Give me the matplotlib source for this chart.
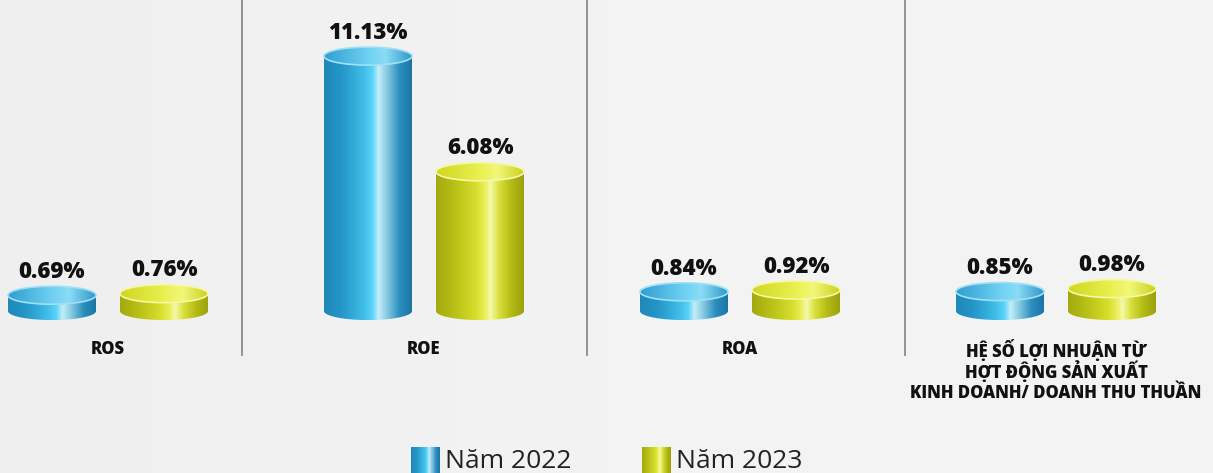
import numpy as np
import matplotlib
matplotlib.use("Agg")
import matplotlib.pyplot as plt
from matplotlib.colors import LinearSegmentedColormap
from matplotlib.patches import Polygon, Ellipse

# du lieu
categories = ["ROS", "ROE", "ROA",
              "HỆ SỐ LỢI NHUẬN TỪ\nHỢT ĐỘNG SẢN XUẤT\nKINH DOANH/ DOANH THU THUẦN"]
series_names = ["Năm 2022", "Năm 2023"]
values_2022 = [0.69, 11.13, 0.84, 0.85]
values_2023 = [0.76, 6.08, 0.92, 0.98]

plt.rcParams['font.family'] = ['Open Sans', 'DejaVu Sans']

# mau gradient cho than va mat tren cua tru
blue_body = LinearSegmentedColormap.from_list("bb", [
    (0.0, "#1f88b8"), (0.2, "#2596c8"), (0.45, "#3fbde8"), (0.55, "#5ad3f8"),
    (0.62, "#c4eef9"), (0.72, "#86c9e2"), (0.86, "#2b8fbe"), (1.0, "#1a76a4")])
blue_top = LinearSegmentedColormap.from_list("bt", [
    (0.0, "#2f9fd0"), (0.5, "#6fd0f2"), (0.7, "#8adcf5"), (1.0, "#2f98c8")])
yellow_body = LinearSegmentedColormap.from_list("yb", [
    (0.0, "#a3aa0e"), (0.2, "#b8bf16"), (0.45, "#d6dd2c"), (0.55, "#e8ee52"),
    (0.62, "#f6f9a8"), (0.72, "#d9df3a"), (0.86, "#b4ba14"), (1.0, "#9ba10b")])
yellow_top = LinearSegmentedColormap.from_list("yt", [
    (0.0, "#cfd621"), (0.5, "#eaf150"), (0.7, "#f2f77a"), (1.0, "#c9d01e")])

fig = plt.figure(figsize=(12.13, 4.73), dpi=100)
ax = fig.add_axes([0, 0, 1, 1])
x0 = 108 / 316
ax.set_xlim(-x0, 1213 / 316 - x0)
ax.set_ylim(-7.07, 13.58)
ax.axis("off")

# nen xam nhat
bg = np.linspace(0, 1, 256).reshape(1, -1)
bg_cmap = LinearSegmentedColormap.from_list("bg", ["#efefef", "#f3f3f3", "#f5f4f4"])
ax.imshow(bg, extent=[-x0, 1213 / 316 - x0, -7.07, 13.58], aspect="auto",
          cmap=bg_cmap, zorder=0)

grad = np.linspace(0, 1, 256).reshape(1, -1)
hw = 44 / 316      # nua be rong tru
off = 56 / 316     # do lech so voi tam nhom
eh = 9 / 22.9      # nua chieu cao elip


def cylinder(xc, v, body_cmap, top_cmap, rim):
    t = np.linspace(np.pi, 2 * np.pi, 60)
    pts = [(xc - hw, v)] + [(xc + hw * np.cos(a), eh * np.sin(a)) for a in t] + [(xc + hw, v)]
    body = Polygon(pts, closed=True, facecolor="none", edgecolor="none")
    ax.add_patch(body)
    im = ax.imshow(grad, extent=[xc - hw, xc + hw, -eh, v], aspect="auto",
                   cmap=body_cmap, zorder=2)
    im.set_clip_path(body)
    top = Ellipse((xc, v), 2 * hw, 2 * eh, facecolor="none", edgecolor=rim,
                  lw=1.2, zorder=4)
    ax.add_patch(top)
    im2 = ax.imshow(grad, extent=[xc - hw, xc + hw, v - eh, v + eh], aspect="auto",
                    cmap=top_cmap, zorder=3)
    im2.set_clip_path(top)


x = np.arange(len(categories))
for i in range(len(categories)):
    cylinder(x[i] - off, values_2022[i], blue_body, blue_top, "#9fe0f5")
    cylinder(x[i] + off, values_2023[i], yellow_body, yellow_top, "#f4f8a8")
    for xc, v in [(x[i] - off, values_2022[i]), (x[i] + off, values_2023[i])]:
        ax.text(xc, v + eh + 0.1, f"{v:.2f}%", ha="center", va="bottom",
                fontsize=16, fontweight="heavy", color="#111111", zorder=5)
    # moi dong cua nhan mot text rieng de giu khoang cach deu
    for j, line in enumerate(categories[i].split("\n")):
        ax.text(x[i], -1.7 - j * 0.94, line, ha="center", va="center", fontsize=12,
                fontweight="heavy", color="#111111", zorder=5)

# duong phan cach
for sx in [0.424, 1.516, 2.522]:
    ax.plot([sx, sx], [-1.92, 13.58], color="#8a8a8a", lw=1.3, zorder=1)

# chu giai
leg_x = [(411 - 108) / 316, (642 - 108) / 316]
leg_cmaps = [blue_body, yellow_body]
for lx, cm, name in zip(leg_x, leg_cmaps, series_names):
    ax.imshow(grad, extent=[lx, lx + 29 / 316, -7.2, -5.94], aspect="auto",
              cmap=cm, zorder=3)
    ax.text(lx + 34 / 316, -6.55, name, ha="left", va="center", fontsize=19,
            color="#222222", zorder=5)

ax.set_xlim(-x0, 1213 / 316 - x0)
ax.set_ylim(-7.07, 13.58)
fig.savefig("out.png", dpi=100)
